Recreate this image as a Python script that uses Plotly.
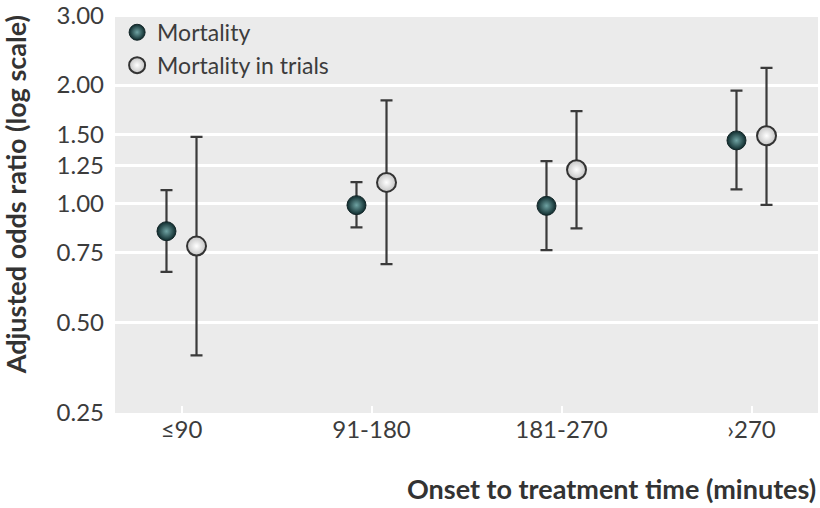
import math
import plotly.graph_objects as go

categories = ["≤90", "91-180", "181-270", "›270"]

mortality_or = [0.851, 0.991, 0.987, 1.447]
mortality_lo = [0.671, 0.870, 0.762, 1.087]
mortality_hi = [1.082, 1.134, 1.282, 1.935]

trials_or = [0.780, 1.132, 1.219, 1.487]
trials_lo = [0.412, 0.702, 0.865, 0.993]
trials_hi = [1.478, 1.828, 1.718, 2.212]

ytick_vals = [0.294, 0.5, 0.75, 1.0, 1.25, 1.5, 2.0, 3.0]
ytick_text = ["0.25", "0.50", "0.75", "1.00", "1.25", "1.50", "2.00", "3.00"]

offset = 0.079
xi = list(range(len(categories)))
x_m = [i - offset for i in xi]
x_t = [i + offset for i in xi]

err_col = "#3a3a3a"
tick_font = dict(family="Lato, sans-serif", size=24, color="#3c3c3c")
legend_font = dict(family="Lato, sans-serif", size=23, color="#3c3c3c")

fig = go.Figure()
fig.add_trace(go.Scatter(
    x=x_m, y=mortality_or, mode="markers", name="Mortality",
    marker=dict(size=19, color="#0e2a2c",
                gradient=dict(type="radial", color="#6fa3a3"),
                line=dict(color="#142628", width=1)),
    error_y=dict(type="data", symmetric=False,
                 array=[h - v for h, v in zip(mortality_hi, mortality_or)],
                 arrayminus=[v - l for v, l in zip(mortality_or, mortality_lo)],
                 color=err_col, thickness=2.2, width=6),
))
fig.add_trace(go.Scatter(
    x=x_t, y=trials_or, mode="markers", name="Mortality in trials",
    marker=dict(size=19, color="#c4c4c4",
                gradient=dict(type="radial", color="#ffffff"),
                line=dict(color="#333333", width=2)),
    error_y=dict(type="data", symmetric=False,
                 array=[h - v for h, v in zip(trials_hi, trials_or)],
                 arrayminus=[v - l for v, l in zip(trials_or, trials_lo)],
                 color=err_col, thickness=2.2, width=6),
))

fig.update_layout(
    width=820, height=508,
    margin=dict(l=115, r=2, t=14, b=95),
    paper_bgcolor="white", plot_bgcolor="#ebebeb",
    showlegend=True,
    legend=dict(x=0.003, y=1.008, xanchor="left", yanchor="top",
                bgcolor="rgba(0,0,0,0)", font=legend_font,
                itemsizing="trace", tracegroupgap=0),
    xaxis=dict(range=[-0.35, 3.35], tickmode="array", tickvals=xi, ticktext=categories,
               showgrid=False, zeroline=False, showline=False,
               ticks="inside", ticklen=7, tickwidth=2, tickcolor="white",
               tickfont=tick_font, automargin=False),
    yaxis=dict(type="log", range=[math.log10(0.294), math.log10(3.03)],
               tickmode="array", tickvals=ytick_vals, ticktext=ytick_text,
               showgrid=True, gridcolor="white", gridwidth=3,
               zeroline=False, showline=False, ticks="",
               ticklabelstandoff=10, tickfont=tick_font, automargin=False),
)

title_font = dict(family="Lato, sans-serif", size=27, color="#333333")
fig.add_annotation(text="<b>Onset to treatment time (minutes)</b>", xref="paper", yref="paper",
                   x=1.0, y=-0.19, xanchor="right", yanchor="middle", showarrow=False,
                   font=title_font)
fig.add_annotation(text="<b>Adjusted odds ratio (log scale)</b>", xref="paper", yref="paper",
                   x=-0.142, y=0.546, xanchor="center", yanchor="middle", textangle=-90,
                   showarrow=False, font=title_font)

fig.write_html("out.html", config={"displayModeBar": False},
               post_script="document.body.style.margin='0';")
